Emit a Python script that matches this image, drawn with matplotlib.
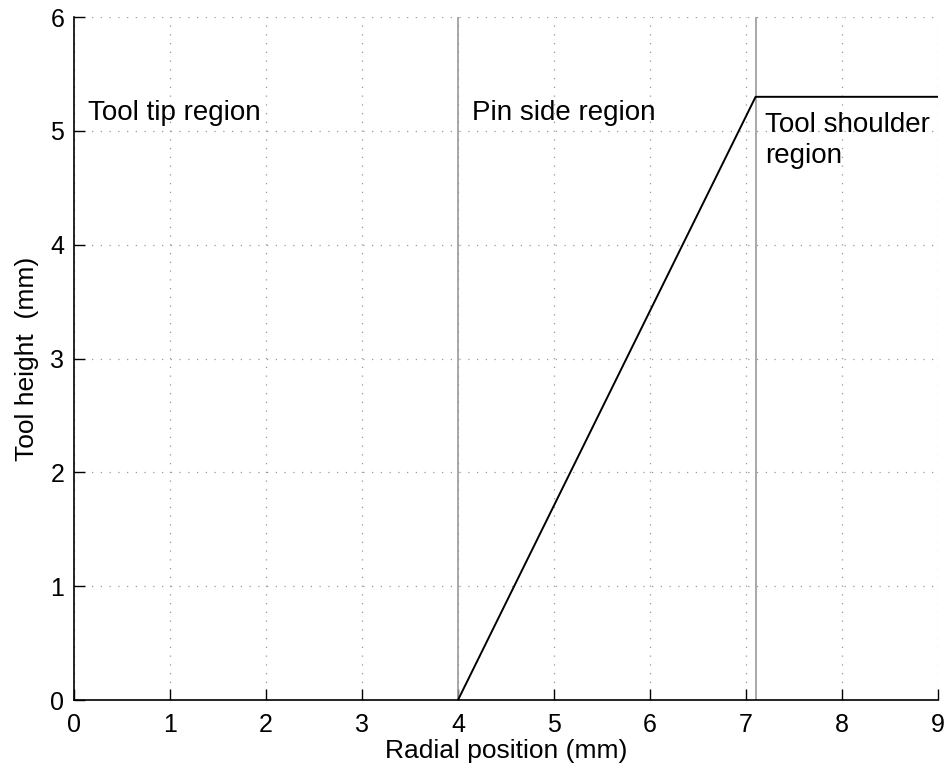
import matplotlib.pyplot as plt

# tool profile: radial position vs tool height (mm)
radius = [4.0, 7.1, 9.0]
height = [0.0, 5.3, 5.3]

# region boundaries
boundaries = [4.0, 7.1]

region_labels = ['Tool tip region', 'Pin side region', 'Tool shoulder\nregion']
label_x = [0.15, 4.15, 7.2]
label_y = [5.10, 5.10, 5.17]
label_va = ['baseline', 'baseline', 'top']

plt.rcParams['font.family'] = ['Liberation Sans', 'DejaVu Sans']

fig = plt.figure(figsize=(9.52, 7.76), dpi=100)
ax = fig.add_axes([0.0777, 0.0979, 0.9076, 0.880])

ax.set_xlim(0, 9)
ax.set_ylim(0, 6)
ax.grid(True, color='#999999', linestyle=(0, (1, 6)), linewidth=0.9)
ax.set_axisbelow(True)

for b in boundaries:
    ax.axvline(b, color='#999999', linewidth=1.2, zorder=2)

ax.plot(radius, height, color='black', linewidth=1.4, zorder=3)

for txt, x, y, va in zip(region_labels, label_x, label_y, label_va):
    ax.text(x, y, txt, fontsize=20, va=va, ha='left', linespacing=1.25)

ax.spines['top'].set_visible(False)
ax.spines['right'].set_visible(False)
ax.spines['left'].set_linewidth(1.2)
ax.spines['bottom'].set_linewidth(1.2)
ax.tick_params(direction='in', length=8, width=1, labelsize=18)
ax.tick_params(axis='x', pad=9)
ax.tick_params(axis='y', pad=7)
ax.set_xticks(range(0, 10))
ax.set_yticks(range(0, 7))
ax.set_xlabel('Radial position (mm)', fontsize=19, labelpad=2)
ax.set_ylabel('Tool height  (mm)', fontsize=19, labelpad=8)

fig.savefig('out.png', dpi=100)
